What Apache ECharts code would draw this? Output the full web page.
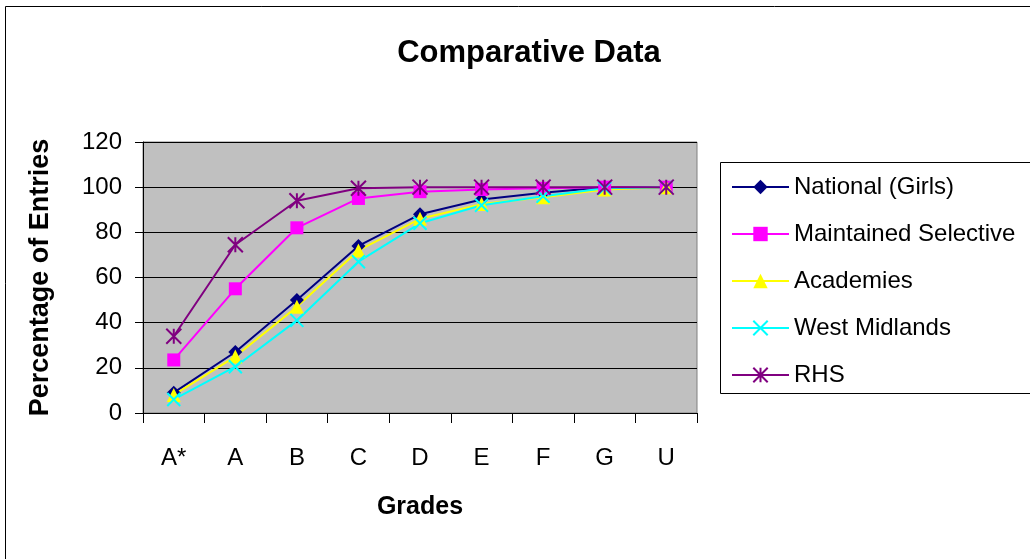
<!DOCTYPE html>
<html><head><meta charset="utf-8">
<script src="https://cdn.jsdelivr.net/npm/echarts@6/dist/echarts.min.js"></script>
<style>html,body{margin:0;padding:0;background:#fff}#c{width:1030px;height:559px}</style>
</head><body><div id="c"></div>
<script>
const categories = ['A*','A','B','C','D','E','F','G','U'];
const national = [9, 27, 50, 74, 88, 94.5, 97.5, 100, 100];
const maintained = [23.5, 55, 82, 95, 98, 99, 99.5, 100, 100];
const academies = [8, 25, 47, 72, 86, 92.5, 95.5, 99, 100];
const westMidlands = [6, 20.5, 41, 67, 84, 92, 96, 99.5, 100];
const rhs = [34, 74.5, 94, 99.5, 100, 100, 100, 100, 100];
const yTicks = {min: 0, max: 120, interval: 20};

const FONT = '"Liberation Sans", Arial, sans-serif';
const chart = echarts.init(document.getElementById('c'), null, {renderer: 'canvas'});
const X_PATH = 'path://M0,0L10,10M10,0L0,10';
const AST_PATH = 'path://M5,0L5,10M0,0L10,10M10,0L0,10';

function mk(name, data, color, symbol, size, stroke) {
  return {
    name, type: 'line', data, symbol, symbolSize: size,
    lineStyle: {color, width: 2},
    itemStyle: stroke ? {color, borderColor: color, borderWidth: 2} : {color, borderColor: color, borderWidth: 0},
    emphasis: {disabled: true}, animation: false
  };
}

chart.setOption({
  backgroundColor: '#fff',
  animation: false,
  title: {
    text: 'Comparative Data', left: 524, textAlign: 'center', top: 33,
    textStyle: {fontFamily: FONT, fontSize: 31, fontWeight: 'bold', color: '#000'}
  },
  graphic: [{type: 'rect', shape: {x: 5.5, y: 6.5, width: 1030, height: 560},
    style: {fill: 'none', stroke: '#000', lineWidth: 1}, silent: true},
    {type: 'rect', shape: {x: 720.5, y: 162.5, width: 320, height: 231},
    style: {fill: '#fff', stroke: '#000', lineWidth: 1}, silent: true, z: -1}],
  legend: {
    orient: 'vertical', left: 726, top: 170, itemGap: 23,
    itemWidth: 57, itemHeight: 18,
    textStyle: {fontFamily: FONT, fontSize: 24, color: '#000'},
    data: ['National (Girls)', 'Maintained Selective', 'Academies', 'West Midlands', 'RHS']
  },
  grid: {left: 143, top: 142, right: 333, bottom: 146, show: true,
    backgroundColor: '#c0c0c0', borderColor: '#808080', borderWidth: 1},
  xAxis: {
    type: 'category', data: categories, boundaryGap: true,
    name: 'Grades', nameLocation: 'middle', nameGap: 82,
    nameTextStyle: {fontFamily: FONT, fontSize: 25, fontWeight: 'bold', color: '#000'},
    axisLine: {lineStyle: {color: '#000', width: 1}},
    axisTick: {show: true, length: 10, lineStyle: {color: '#000'}},
    axisLabel: {fontFamily: FONT, fontSize: 24, color: '#000', margin: 33},
    splitLine: {show: false}
  },
  yAxis: {
    type: 'value', min: yTicks.min, max: yTicks.max, interval: yTicks.interval,
    name: 'Percentage of Entries', nameLocation: 'middle', nameGap: 89, nameRotate: 90,
    nameTextStyle: {fontFamily: FONT, fontSize: 27, fontWeight: 'bold', color: '#000'},
    axisLine: {show: true, lineStyle: {color: '#000', width: 1}},
    axisTick: {show: true, length: 8, lineStyle: {color: '#000'}},
    axisLabel: {fontFamily: FONT, fontSize: 24, color: '#000', margin: 21},
    splitLine: {show: true, lineStyle: {color: '#000', width: 1}}
  },
  series: [
    mk('National (Girls)', national, '#000080', 'diamond', 14, false),
    mk('Maintained Selective', maintained, '#FF00FF', 'rect', 13, false),
    mk('Academies', academies, '#FFFF00', 'triangle', 14, false),
    mk('West Midlands', westMidlands, '#00FFFF', X_PATH, 13, true),
    mk('RHS', rhs, '#800080', AST_PATH, 15, true)
  ]
});
</script></body></html>
